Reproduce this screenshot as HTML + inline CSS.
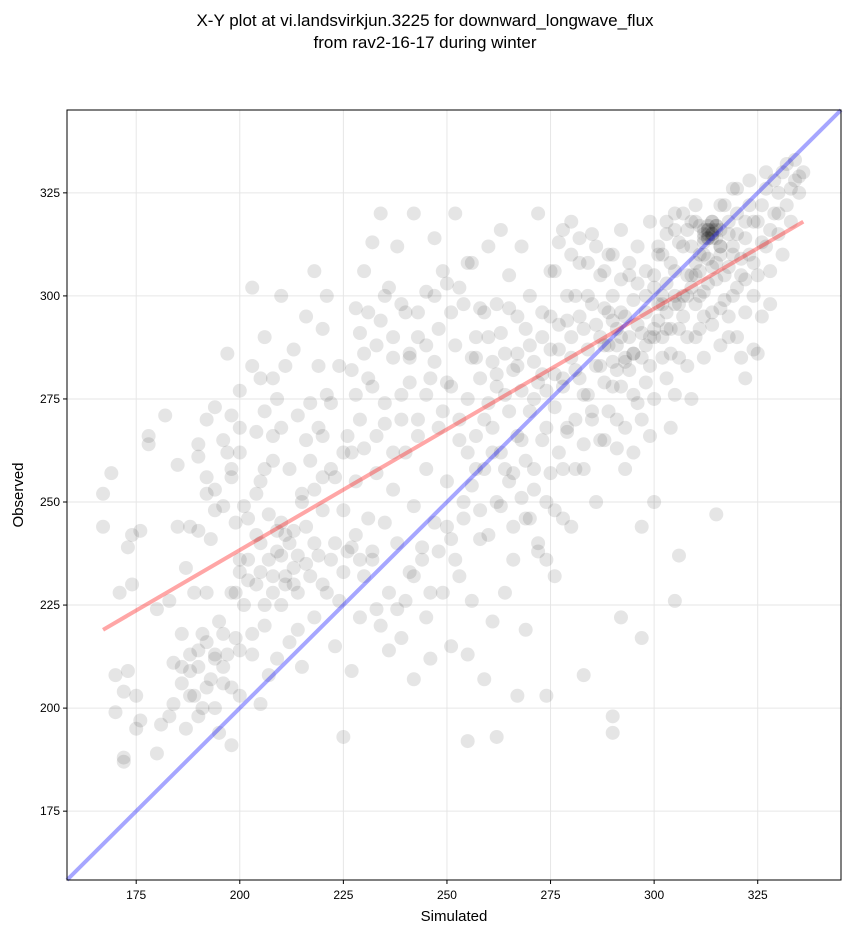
<!DOCTYPE html>
<html><head><meta charset="utf-8"><style>
body{margin:0;background:#fff;font-family:"Liberation Sans",sans-serif}
</style></head><body>
<svg id="chart" width="851" height="934" xmlns="http://www.w3.org/2000/svg" style="font-family:'Liberation Sans',sans-serif">
<text x="425" y="26" text-anchor="middle" font-size="17">X-Y plot at vi.landsvirkjun.3225 for downward_longwave_flux</text>
<text x="425" y="48" text-anchor="middle" font-size="17">from rav2-16-17 during winter</text>
<g id="grid"></g>
<g id="pts"></g>
<g id="lines"></g>
<rect x="67" y="110" width="774" height="770" fill="none" stroke="#000" stroke-width="1"/>
<g id="ticks"></g>
<text x="454" y="921" text-anchor="middle" font-size="15">Simulated</text>
<text x="23" y="495" text-anchor="middle" font-size="15" transform="rotate(-90 23 495)">Observed</text>
</svg>
<script>
const xTicks=[175,200,225,250,275,300,325];
const yTicks=[175,200,225,250,275,300,325];
const fitLine=[[167,219],[336,318]];
const identityRange=[158.3,345.1];
const simulated=[167,167,169,170,170,171,172,172,172,173,173,174,174,175,175,176,176,178,178,180,180,181,182,183,183,184,184,185,185,186,186,187,187,188,188,189,189,190,190,190,191,191,192,192,192,193,193,194,194,194,195,195,196,196,197,197,197,198,198,198,199,199,199,200,200,200,200,201,201,202,203,203,203,204,204,205,205,205,206,206,206,207,207,208,208,208,209,209,210,210,210,210,211,211,211,212,212,213,213,213,214,214,214,215,215,216,216,216,217,217,218,218,218,219,219,220,220,220,221,221,222,222,223,223,224,225,225,225,226,227,227,228,228,228,229,229,230,230,230,231,232,232,232,233,233,234,234,235,235,236,236,237,237,238,238,239,239,240,240,241,241,242,242,242,243,243,244,245,245,245,246,246,247,247,248,248,249,250,250,250,251,251,252,252,253,253,254,254,255,255,256,256,257,257,258,258,259,259,260,260,261,261,262,262,263,263,264,264,265,265,266,266,267,267,268,268,269,269,270,270,271,271,272,272,273,273,274,274,275,275,276,276,277,277,278,278,279,279,280,280,280,281,281,282,282,283,283,284,284,285,285,286,286,287,287,288,288,289,289,290,290,290,291,291,292,292,293,293,294,294,295,295,296,296,297,297,298,298,299,299,300,300,300,301,301,302,302,303,303,304,304,305,305,306,306,307,307,308,308,309,309,310,310,311,311,312,312,313,313,314,314,315,315,316,316,317,317,318,318,319,319,320,320,321,321,322,322,323,323,324,324,325,325,326,327,327,328,329,330,331,332,332,333,334,335,336,255,262,267,274,290,283,292,297,305,315,306,313,314,312,315,313,316,311,314,310,309,308,312,305,303,300,298,295,293,291,
312,313,314,315,313,314,312,316,311,315,314,313,300,301,302,303,304,305,306,307,308,309,310,311,312,313,314,315,316,317,318,319,320,321,318,320,322,324,326,328,322,305,307,309,303,301,302,304,306,308,310,312,314,316,318,320,322,325,303,305,299,297,295,293,291,289,287,285,283,281,279,277,275,273,271,269,267,265,263,261,259,257,280,282,284,286,288,290,292,294,296,298,278,276,274,272,270,268,266,264,262,260,258,256,285,287,289,291,293,295,297,299,283,281,279,277,275,273,271,269,267,265,263,261,259,257,255,253,251,249,247,245,243,241,239,237,235,233,231,229,227,300,302,298,296,294,292,290,288,286,284,282,280,278,276,290,292,288,310,316,319,323,327,330,333,331,334,335,329,326,324,328,330,
205,207,209,211,213,210,212,214,208,206,204,202,200,198,196,194,192,190,188,186,188,190,192,194,196,198,200,203,216,218,220,222,224,226,228,230,232,234,236,238,240,242,244,246,248,250,252,254,256,258,260,262,264,266,268,270,272,274,276,278,215,217,219,221,223,225,227,229,231,233,235,237,239,241,243,245,247,249,251,253,255,220,208,206,204,202,200,198,196,194,192,190,205,209];
const observed=[252,244,257,199,208,228,188,187,204,239,209,242,230,203,195,243,197,264,266,224,189,196,271,226,198,211,201,259,244,218,206,195,234,244,209,228,203,243,261,214,200,218,270,252,228,241,207,273,253,212,194,221,249,206,286,262,213,271,258,191,245,228,217,277,262,236,203,249,225,231,302,283,213,267,242,255,233,201,290,272,220,247,208,280,260,228,238,212,300,268,245,225,283,242,232,258,216,287,243,230,271,237,219,250,210,295,265,244,232,274,306,253,222,283,237,292,266,248,300,228,274,258,240,215,283,248,233,193,266,239,209,297,276,255,236,222,306,286,263,246,313,278,238,224,257,320,294,269,245,228,302,285,253,312,240,217,276,296,262,285,233,320,249,207,290,270,239,301,258,222,280,212,314,245,292,268,228,303,279,255,241,215,320,288,265,232,298,250,275,213,308,226,285,258,297,241,270,207,312,290,262,221,298,278,316,249,286,228,305,272,257,236,295,283,312,265,246,219,300,288,275,258,320,238,296,281,268,250,306,287,273,232,313,293,280,258,300,267,318,290,244,282,270,308,295,276,258,300,287,315,272,293,250,305,283,297,265,310,288,300,278,198,292,270,316,296,285,258,305,290,299,276,312,293,285,244,306,296,318,290,302,275,250,310,294,298,285,315,303,292,268,320,306,298,285,312,300,316,290,305,275,318,308,300,292,315,310,316,303,318,314,316,308,312,297,322,305,315,290,310,300,326,315,305,285,318,296,328,310,300,287,318,305,295,330,312,298,320,325,310,332,322,318,328,325,330,192,193,203,203,194,208,222,217,226,247,237,316,315,313,317,314,312,310,307,305,302,300,295,298,292,290,288,286,284,282,
316,317,315,317,314,318,314,316,317,314,316,315,305,298,310,296,308,300,313,295,305,312,298,306,301,309,296,304,310,299,307,312,302,309,318,320,314,318,322,316,304,316,320,318,318,312,290,286,292,283,290,285,293,288,295,290,280,286,280,276,283,291,286,295,288,296,290,298,292,300,294,287,295,290,284,292,286,297,291,284,296,290,285,280,276,283,279,284,278,282,274,279,278,281,277,279,272,277,282,276,281,274,280,285,270,265,272,263,268,262,270,266,264,258,268,262,257,265,253,260,266,255,262,268,258,266,262,270,278,272,284,276,266,279,270,262,274,266,280,270,262,292,300,300,303,308,304,310,306,312,308,314,310,316,306,294,290,288,322,322,326,322,326,320,326,330,333,329,328,313,308,306,315,
240,236,243,230,234,237,240,228,232,225,230,236,233,228,218,213,216,210,213,210,203,198,205,200,210,205,214,218,235,240,230,236,226,238,242,232,236,220,214,224,226,232,236,228,238,244,236,246,254,248,242,250,258,244,251,246,240,236,248,246,252,260,268,276,256,262,282,291,296,288,300,290,298,286,296,288,300,306,296,302,308,256,266,258,252,246,268,256,265,248,256,264,280,275];
const X0=67,X1=841,Y0=880,Y1=110,lo=158.3,hi=345.1;
const sx=v=>X0+(v-lo)/(hi-lo)*(X1-X0);
const sy=v=>Y0-(v-lo)/(hi-lo)*(Y0-Y1);
const NS='http://www.w3.org/2000/svg';
function mk(t,a,p){const e=document.createElementNS(NS,t);for(const k in a)e.setAttribute(k,a[k]);p.appendChild(e);return e;}
const grid=document.getElementById('grid'),ticks=document.getElementById('ticks');
xTicks.forEach(v=>{
 const g=mk('line',{x1:sx(v),x2:sx(v),y1:Y1,y2:Y0,stroke:'#e6e6e6','stroke-width':1},grid);
 
 
 const t=mk('line',{x1:sx(v),x2:sx(v),y1:Y0,y2:Y0+4,stroke:'#000'},ticks);
 
 
 const l=mk('text',{x:sx(v),y:Y0+19,'text-anchor':'middle','font-size':12},ticks);
 l.textContent=v;
 
 
});
yTicks.forEach(v=>{
 const g=mk('line',{x1:X0,x2:X1,y1:sy(v),y2:sy(v),stroke:'#e6e6e6','stroke-width':1},grid);
 
 
 const t=mk('line',{x1:X0-4,x2:X0,y1:sy(v),y2:sy(v),stroke:'#000'},ticks);
 
 
 const l=mk('text',{x:X0-7,y:sy(v)+4,'text-anchor':'end','font-size':12},ticks);
 l.textContent=v;
 
 
});
const pts=document.getElementById('pts');
simulated.forEach((s,i)=>{
 const c=mk('circle',{cx:sx(s),cy:sy(observed[i]),r:7,fill:'#000','fill-opacity':0.1},pts);
 
 
});
const lines=document.getElementById('lines');
const f=mk('line',{x1:sx(fitLine[0][0]),y1:sy(fitLine[0][1]),x2:sx(fitLine[1][0]),y2:sy(fitLine[1][1]),stroke:'#f00','stroke-opacity':0.35,'stroke-width':4},lines);


const id=mk('line',{x1:sx(identityRange[0]),y1:sy(identityRange[0]),x2:sx(identityRange[1]),y2:sy(identityRange[1]),stroke:'#00f','stroke-opacity':0.35,'stroke-width':4},lines);


</script>
</body></html>
